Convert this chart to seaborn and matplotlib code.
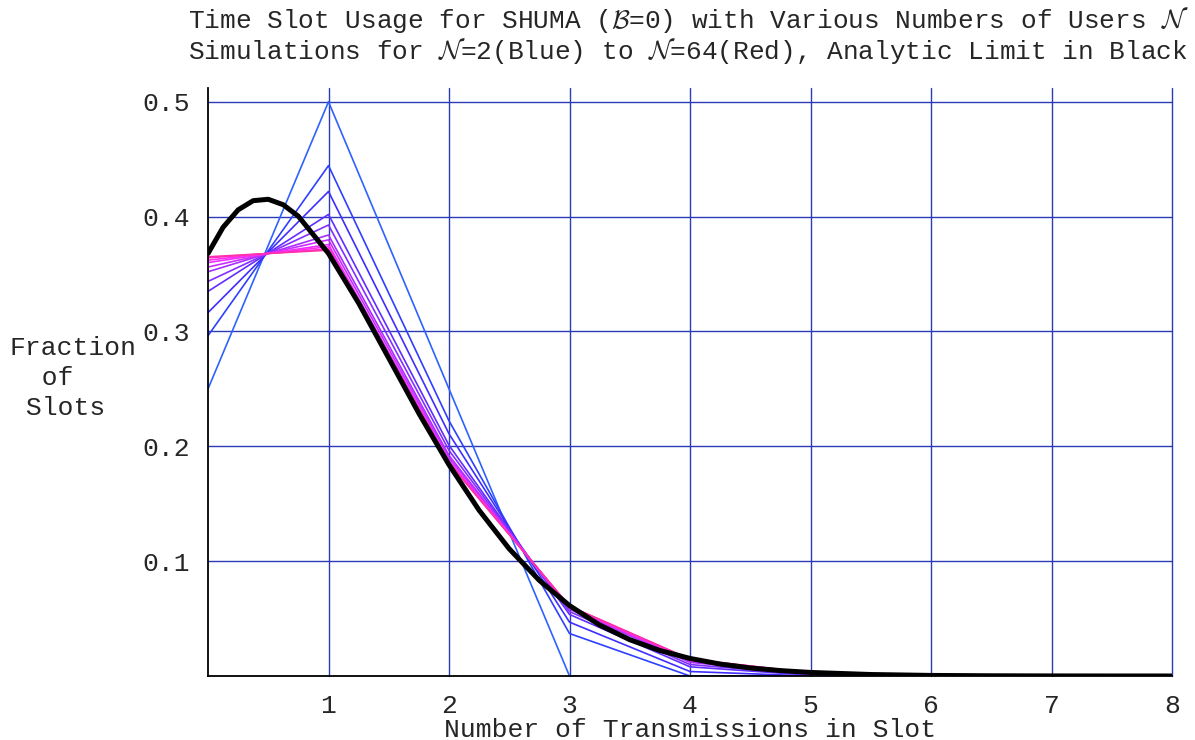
import colorsys
import numpy as np
import pandas as pd
import matplotlib
matplotlib.use("Agg")
import matplotlib.pyplot as plt
from matplotlib.ticker import MultipleLocator
import seaborn as sns

# ---------------- data ----------------
transmissions = [0, 1, 2, 3, 4, 5, 6, 7, 8]
users = [2, 3, 4, 6, 8, 12, 16, 24, 32, 48, 64]

frac_n2 = [0.2500, 0.5000, 0.2500, 0.0, 0.0, 0.0, 0.0, 0.0, 0.0]
frac_n3 = [0.2963, 0.4444, 0.2222, 0.0370, 0.0, 0.0, 0.0, 0.0, 0.0]
frac_n4 = [0.3164, 0.4219, 0.2109, 0.0469, 0.0039, 0.0, 0.0, 0.0, 0.0]
frac_n6 = [0.3349, 0.4019, 0.2009, 0.0536, 0.0080, 0.00064, 0.00002, 0.0, 0.0]
frac_n8 = [0.3436, 0.3927, 0.1964, 0.0561, 0.0100, 0.00115, 0.00008, 0.0, 0.0]
frac_n12 = [0.3520, 0.3840, 0.1920, 0.0582, 0.0119, 0.00173, 0.00018, 0.00001, 0.0]
frac_n16 = [0.3561, 0.3798, 0.1899, 0.0591, 0.0128, 0.00205, 0.00025, 0.00002, 0.0]
frac_n24 = [0.3600, 0.3757, 0.1878, 0.0599, 0.0137, 0.00238, 0.00033, 0.00004, 0.0]
frac_n32 = [0.3621, 0.3738, 0.1869, 0.0603, 0.0141, 0.00255, 0.00037, 0.00004, 0.0]
frac_n48 = [0.3641, 0.3718, 0.1859, 0.0607, 0.0145, 0.00272, 0.00041, 0.00005, 0.00001]
frac_n64 = [0.3650, 0.3708, 0.1854, 0.0608, 0.0147, 0.00280, 0.00044, 0.00006, 0.00001]

limit_x = [0.0, 0.125, 0.25, 0.375, 0.5, 0.625, 0.75, 1.0, 1.25, 1.5, 1.75, 2.0,
           2.25, 2.5, 2.75, 3.0, 3.25, 3.5, 3.75, 4.0, 4.25, 4.5, 4.75, 5.0,
           5.5, 6.0, 6.5, 7.0, 7.5, 8.0]
limit_y = [0.3679, 0.3907, 0.4059, 0.4139, 0.4151, 0.4103, 0.4003, 0.3679, 0.3247,
           0.2768, 0.2287, 0.1839, 0.1443, 0.1107, 0.0832, 0.0613, 0.0444, 0.0316,
           0.0222, 0.0153, 0.0104, 0.0070, 0.0047, 0.0031, 0.0013, 0.0005,
           0.0002, 0.00007, 0.00003, 0.00001]

title_line1 = r"Time Slot Usage for SHUMA ($\mathcal{B}$=0) with Various Numbers of Users $\mathcal{N}$"
title_line2 = r"Simulations for $\mathcal{N}$=2(Blue) to $\mathcal{N}$=64(Red), Analytic Limit in Black"
x_label = "Number of Transmissions in Slot"
y_label = "Fraction\n  of\n Slots"

series = [frac_n2, frac_n3, frac_n4, frac_n6, frac_n8, frac_n12,
          frac_n16, frac_n24, frac_n32, frac_n48, frac_n64]

# ---------------- build tidy frames ----------------
rows = []
for n, vals in zip(users, series):
    for x, v in zip(transmissions, vals):
        rows.append({"x": x, "frac": v, "N": n})
sim = pd.DataFrame(rows)
lim = pd.DataFrame({"x": limit_x, "frac": limit_y})

# ---------------- style ----------------
sns.set_theme(style="white")
plt.rcParams["font.family"] = ["Liberation Mono", "DejaVu Sans Mono"]
plt.rcParams["mathtext.fontset"] = "cm"

FS = 19
fig = plt.figure(figsize=(11.95, 7.40), dpi=100)
ax = fig.add_axes([208 / 1195, 1 - 676 / 740, (1172 - 208) / 1195, (676 - 88) / 740])

k = len(users)
palette = {}
for i, n in enumerate(users):
    h = 0.625 + (0.9 - 0.625) * i / (k - 1)
    palette[n] = colorsys.hsv_to_rgb(h, 0.82, 1.0)

sns.lineplot(data=sim, x="x", y="frac", hue="N", palette=palette, ax=ax,
             linewidth=1.2, legend=False, estimator=None, sort=False)
sns.lineplot(data=lim, x="x", y="frac", color="black", ax=ax,
             linewidth=3.6, legend=False, estimator=None, sort=False)

ax.set_xlim(0, 8)
ax.set_ylim(0, 0.512)

ax.xaxis.set_major_locator(MultipleLocator(1))
ax.xaxis.set_minor_locator(MultipleLocator(0.2))
ax.yaxis.set_major_locator(MultipleLocator(0.1))
ax.yaxis.set_minor_locator(MultipleLocator(0.02))

ax.grid(True, which="major", color="#2a3cb4", linewidth=1.0)
ax.set_axisbelow(True)

for side in ["top", "right"]:
    ax.spines[side].set_visible(False)
for side in ["left", "bottom"]:
    ax.spines[side].set_color("black")
    ax.spines[side].set_linewidth(1.3)

ax.tick_params(which="major", direction="in", length=5, width=0.9, color="black",
               labelsize=FS)
ax.tick_params(which="minor", direction="in", length=3, width=0.8, color="black")
ax.tick_params(axis="y", which="major", pad=13)
ax.tick_params(axis="x", which="major", pad=13)

xt = [1, 2, 3, 4, 5, 6, 7, 8]
ax.set_xticks(xt)
ax.set_xticklabels([str(v) for v in xt])
yt = [0.1, 0.2, 0.3, 0.4, 0.5]
ax.set_yticks(yt)
ax.set_yticklabels([f"{v:.1f}" for v in yt])

for gl in ax.get_xgridlines() + ax.get_ygridlines():
    gl.set_clip_on(False)

ax.set_xlabel(x_label, fontsize=FS, labelpad=0)
ax.set_ylabel("")

fig.text(10 / 1195, 1 - 378 / 740, y_label, fontsize=FS, ha="left", va="center",
         multialignment="left", linespacing=1.33)
fig.text(188 / 1195, 1 - 20 / 740, title_line1, fontsize=18.8, ha="left", va="center")
fig.text(188 / 1195, 1 - 51 / 740, title_line2, fontsize=18.8, ha="left", va="center")

fig.savefig("out.png", dpi=100)
